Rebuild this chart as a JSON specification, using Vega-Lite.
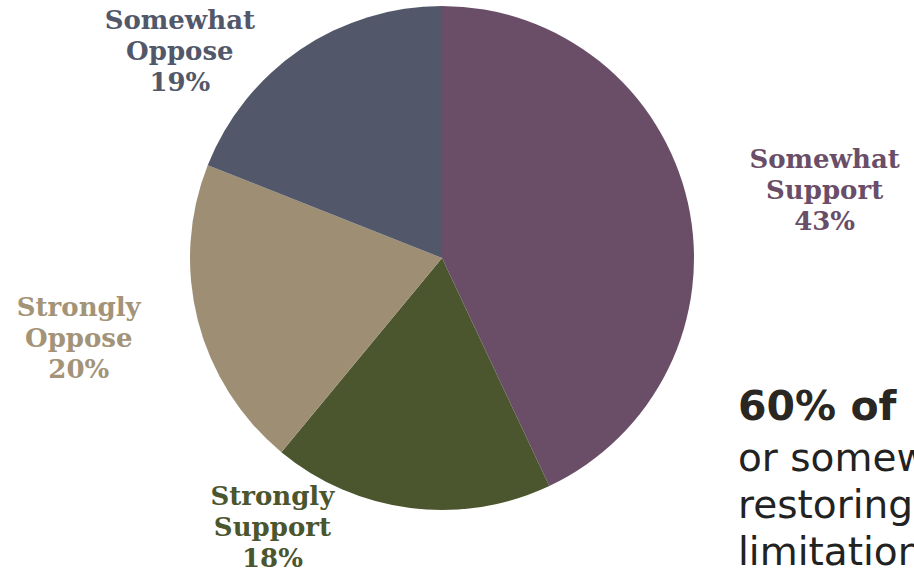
{
  "$schema": "https://vega.github.io/schema/vega-lite/v6.json",
  "autosize": "none",
  "width": 884,
  "height": 516,
  "padding": {"left": 0, "top": 0, "right": 30, "bottom": 55},
  "background": "white",
  "config": {"view": {"stroke": null}},
  "title": {
    "text": "60% of",
    "subtitle": ["or somew", "restoring", "limitation"],
    "orient": "top",
    "anchor": "start",
    "frame": "group",
    "dx": 738,
    "dy": 686,
    "font": "DejaVu Sans",
    "fontSize": 41,
    "fontWeight": "bold",
    "color": "#2a2622",
    "subtitleFont": "DejaVu Sans",
    "subtitleFontSize": 39,
    "subtitleColor": "#222222",
    "subtitleLineHeight": 47,
    "subtitlePadding": 11
  },
  "data": {
    "values": [
      {"category": "Somewhat Support", "value": 43, "label": "Somewhat\nSupport\n43%", "order": 1},
      {"category": "Strongly Support", "value": 18, "label": "Strongly\nSupport\n18%", "order": 2},
      {"category": "Strongly Oppose", "value": 20, "label": "Strongly\nOppose\n20%", "order": 3},
      {"category": "Somewhat Oppose", "value": 19, "label": "Somewhat\nOppose\n19%", "order": 4}
    ]
  },
  "encoding": {
    "theta": {"field": "value", "type": "quantitative", "stack": true},
    "order": {"field": "order", "type": "quantitative"},
    "color": {
      "field": "category",
      "type": "nominal",
      "legend": null,
      "scale": {
        "domain": ["Somewhat Support", "Strongly Support", "Strongly Oppose", "Somewhat Oppose"],
        "range": ["#6A4E68", "#4B552E", "#9E8F74", "#525869"]
      }
    }
  },
  "layer": [
    {"mark": {"type": "arc", "outerRadius": 252}},
    {
      "mark": {"type": "text", "radius": 390, "dx": 2, "dy": -13, "font": "DejaVu Serif", "fontWeight": "bold", "fontSize": 26, "lineBreak": "\n", "lineHeight": 31, "align": "center", "baseline": "middle"},
      "encoding": {"text": {"condition": {"test": "datum.category === 'Somewhat Support'", "field": "label"}, "value": ""}}
    },
    {
      "mark": {"type": "text", "radius": 300, "dx": -132, "dy": -59, "font": "DejaVu Serif", "fontWeight": "bold", "fontSize": 26, "lineBreak": "\n", "lineHeight": 31, "align": "center", "baseline": "middle"},
      "encoding": {"text": {"condition": {"test": "datum.category === 'Strongly Support'", "field": "label"}, "value": ""}}
    },
    {
      "mark": {"type": "text", "radius": 375, "dx": 0, "dy": -43, "font": "DejaVu Serif", "fontWeight": "bold", "fontSize": 26, "lineBreak": "\n", "lineHeight": 31, "align": "center", "baseline": "middle"},
      "encoding": {
        "text": {"condition": {"test": "datum.category === 'Strongly Oppose'", "field": "label"}, "value": ""},
        "color": {"value": "#A39378"}
      }
    },
    {
      "mark": {"type": "text", "radius": 333, "dx": -75, "dy": 38, "font": "DejaVu Serif", "fontWeight": "bold", "fontSize": 26, "lineBreak": "\n", "lineHeight": 31, "align": "center", "baseline": "middle"},
      "encoding": {"text": {"condition": {"test": "datum.category === 'Somewhat Oppose'", "field": "label"}, "value": ""}}
    }
  ]
}
